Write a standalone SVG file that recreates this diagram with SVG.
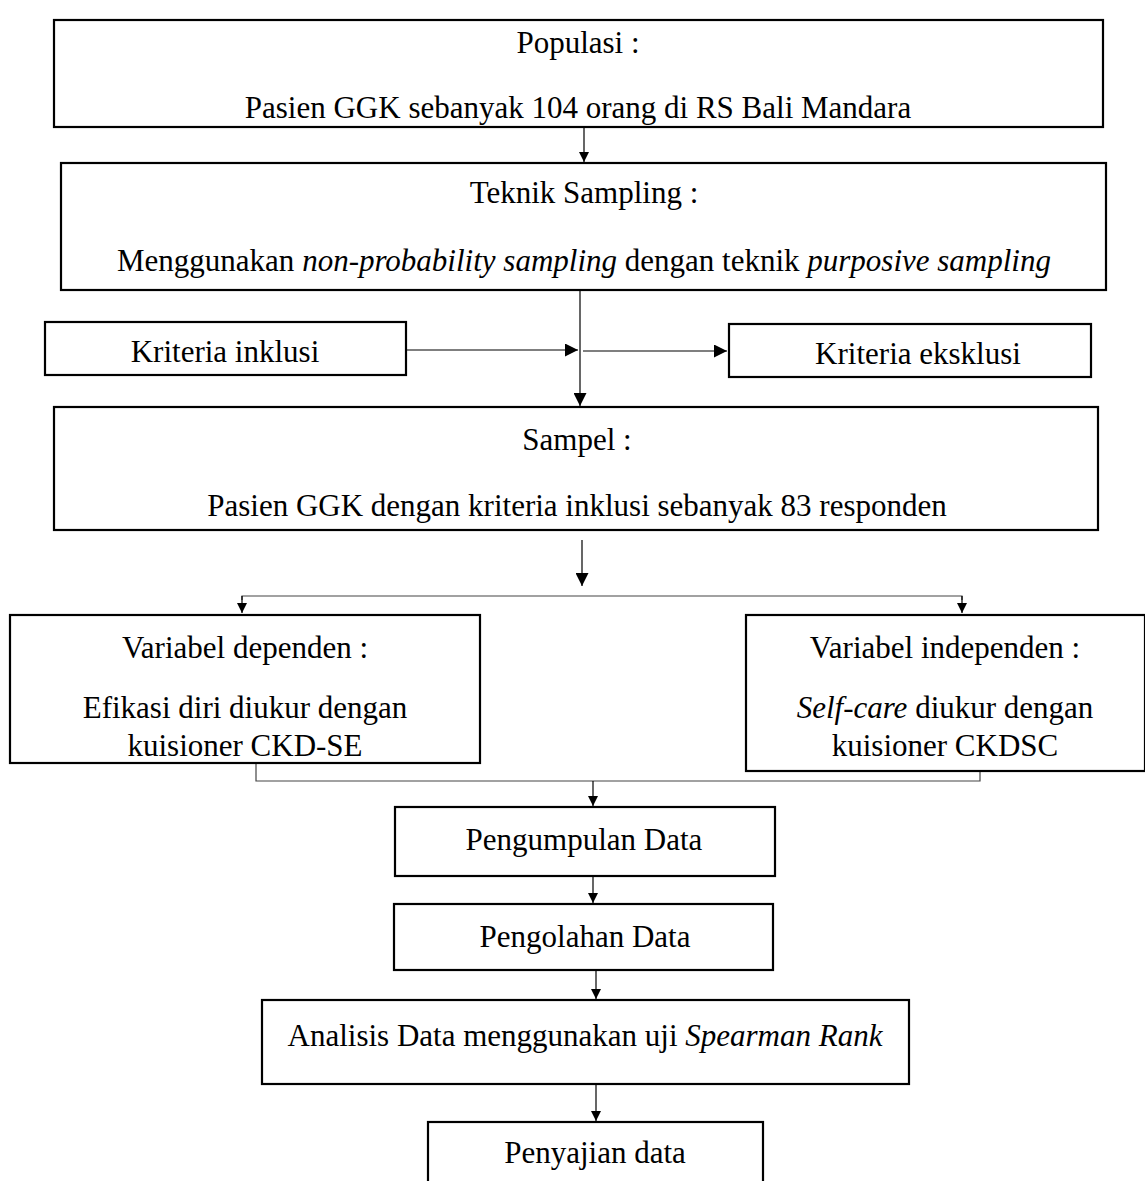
<svg xmlns="http://www.w3.org/2000/svg" width="1145" height="1181" viewBox="0 0 1145 1181">
<defs>
<marker id="ah" viewBox="0 0 10 10" refX="10" refY="5" markerWidth="10" markerHeight="11" markerUnits="userSpaceOnUse" orient="auto">
<path d="M0,0 L10,5 L0,10 z" fill="#000"/>
</marker>
<marker id="ahb" viewBox="0 0 10 10" refX="10" refY="5" markerWidth="15" markerHeight="13" markerUnits="userSpaceOnUse" orient="auto">
<path d="M0,0 L10,5 L0,10 z" fill="#000"/>
</marker>
</defs>
<style>
.box{fill:#fff;stroke:#000;stroke-width:2.2}
.t{font-family:"Liberation Serif","Times New Roman",serif;font-size:31px;fill:#000;text-anchor:middle}
.c{fill:none;stroke:#000;stroke-width:1.2}
.g{fill:none;stroke:#444;stroke-width:1.2}
</style>
<rect width="1145" height="1181" fill="#fff"/>
<g id="connectors">
<line class="c" x1="584" y1="128" x2="584" y2="162" marker-end="url(#ah)"/>
<line class="c" x1="580" y1="291" x2="580" y2="406" marker-end="url(#ahb)"/>
<line class="c" x1="407" y1="350" x2="578" y2="350" marker-end="url(#ahb)"/>
<line class="c" x1="583" y1="351" x2="727" y2="351" marker-end="url(#ahb)"/>
<line class="c" x1="582" y1="540" x2="582" y2="586" marker-end="url(#ahb)"/>
<polyline class="g" points="242,600 242,596 962,596 962,600"/>
<line class="c" x1="242" y1="596" x2="242" y2="613" marker-end="url(#ah)"/>
<line class="c" x1="962" y1="596" x2="962" y2="613" marker-end="url(#ah)"/>
<polyline class="g" points="256,764 256,781 980,781 980,772"/>
<line class="c" x1="593" y1="781" x2="593" y2="806" marker-end="url(#ah)"/>
<line class="c" x1="593" y1="876" x2="593" y2="903" marker-end="url(#ah)"/>
<line class="c" x1="596" y1="970" x2="596" y2="999" marker-end="url(#ah)"/>
<line class="c" x1="596" y1="1084" x2="596" y2="1121" marker-end="url(#ah)"/>
</g>
<g id="populasi">
<rect class="box" x="54" y="20" width="1049" height="107"/>
<text class="t" x="578" y="53">Populasi :</text>
<text class="t" x="578" y="118">Pasien GGK sebanyak 104 orang di RS Bali Mandara</text>
</g>
<g id="teknik">
<rect class="box" x="61" y="163" width="1045" height="127"/>
<text class="t" x="584" y="203">Teknik Sampling :</text>
<text class="t" x="584" y="271">Menggunakan <tspan font-style="italic">non-probability sampling</tspan> dengan teknik <tspan font-style="italic">purposive sampling</tspan></text>
</g>
<g id="inklusi">
<rect class="box" x="45" y="322" width="361" height="53"/>
<text class="t" x="225" y="362">Kriteria inklusi</text>
</g>
<g id="eksklusi">
<rect class="box" x="729" y="324" width="362" height="53"/>
<text class="t" x="918" y="364">Kriteria eksklusi</text>
</g>
<g id="sampel">
<rect class="box" x="54" y="407" width="1044" height="123"/>
<text class="t" x="577" y="450">Sampel :</text>
<text class="t" x="577" y="516">Pasien GGK dengan kriteria inklusi sebanyak 83 responden</text>
</g>
<g id="dependen">
<rect class="box" x="10" y="615" width="470" height="148"/>
<text class="t" x="245" y="658">Variabel dependen :</text>
<text class="t" x="245" y="718">Efikasi diri diukur dengan</text>
<text class="t" x="245" y="756">kuisioner CKD-SE</text>
</g>
<g id="independen">
<rect class="box" x="746" y="615" width="399" height="156"/>
<text class="t" x="945" y="658">Variabel independen :</text>
<text class="t" x="945" y="718"><tspan font-style="italic">Self-care</tspan> diukur dengan</text>
<text class="t" x="945" y="756">kuisioner CKDSC</text>
</g>
<g id="pengumpulan">
<rect class="box" x="395" y="807" width="380" height="69"/>
<text class="t" x="584" y="850">Pengumpulan Data</text>
</g>
<g id="pengolahan">
<rect class="box" x="394" y="904" width="379" height="66"/>
<text class="t" x="585" y="947">Pengolahan Data</text>
</g>
<g id="analisis">
<rect class="box" x="262" y="1000" width="647" height="84"/>
<text class="t" x="585" y="1046">Analisis Data menggunakan uji <tspan font-style="italic">Spearman Rank</tspan></text>
</g>
<g id="penyajian">
<rect class="box" x="428" y="1122" width="335" height="70"/>
<text class="t" x="595" y="1163">Penyajian data</text>
</g>
</svg>
